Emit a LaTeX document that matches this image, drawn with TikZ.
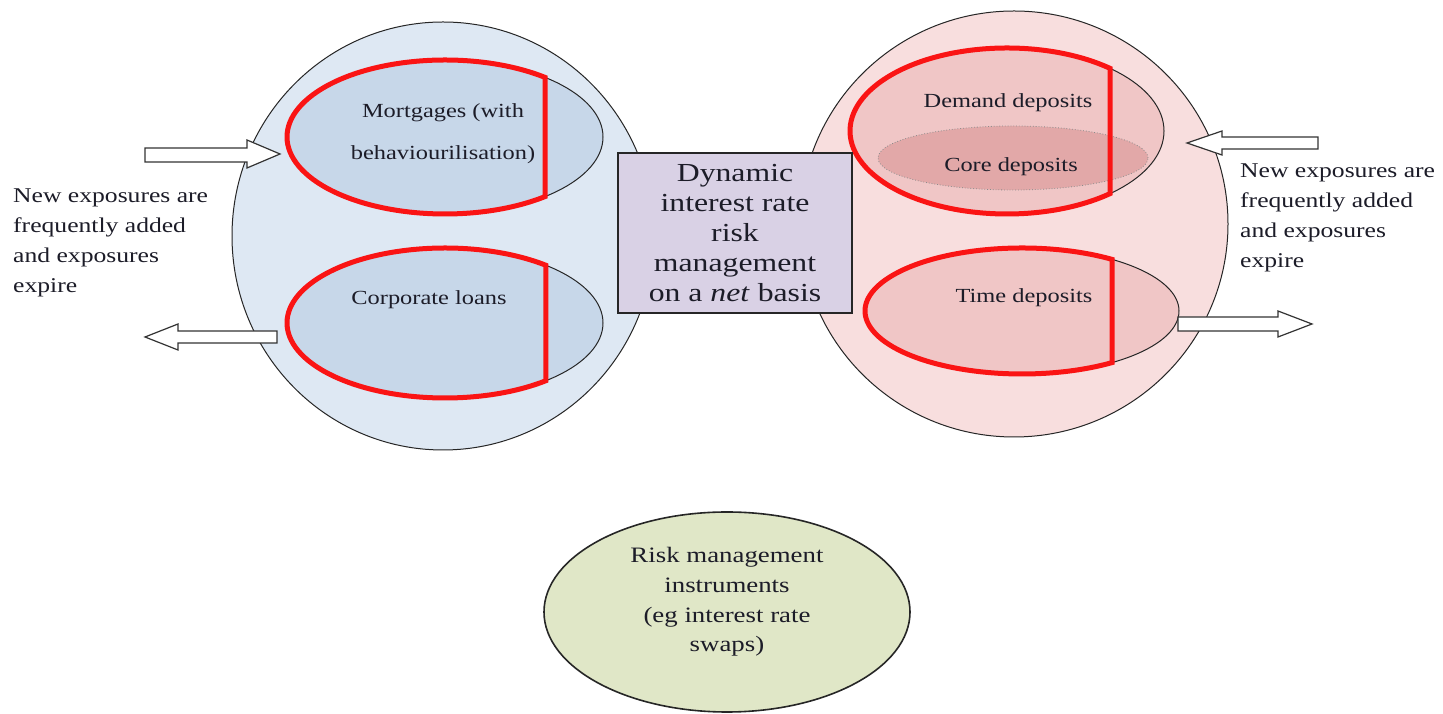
\documentclass[tikz,border=0pt]{standalone}
\usepackage{fontspec}
\setmainfont{Liberation Serif}[FakeStretch=1.22]
\usetikzlibrary{shapes.geometric,calc}

\definecolor{assetbg}{RGB}{222,232,243}
\definecolor{assetin}{RGB}{199,215,233}
\definecolor{liabbg}{RGB}{248,222,222}
\definecolor{liabin}{RGB}{240,198,198}
\definecolor{coreclr}{RGB}{226,168,168}
\definecolor{hubclr}{RGB}{217,209,229}
\definecolor{hedgeclr}{RGB}{224,231,199}
\definecolor{rimred}{RGB}{250,20,20}
\definecolor{inkclr}{RGB}{28,28,40}

\begin{document}
\begin{tikzpicture}[x=1pt,y=1pt,
  pool/.style={ellipse, draw=black!85, line width=1pt, inner sep=0pt},
  bucket/.style={ellipse, draw=black!85, line width=1pt, inner sep=0pt},
  redrim/.style={draw=rimred, line width=5pt, line join=miter},
  blockarrow/.style={draw=black!80, fill=white, line width=1.2pt, line join=miter},
  lbl/.style={inner sep=0pt, text=inkclr, align=center},
  sidenote/.style={inner sep=0pt, text=inkclr, align=left, font=\fontsize{21}{30}\selectfont}
]
\useasboundingbox (0,0) rectangle (1443,714);
\fill[white] (0,0) rectangle (1443,714);

% asset side
\node[pool, fill=assetbg, minimum width=422pt, minimum height=428pt] (assets) at (443,478) {};
\node[bucket, fill=assetin, minimum width=316pt, minimum height=154pt] (mort) at (445,577) {};
\node[bucket, fill=assetin, minimum width=316pt, minimum height=150pt] (corp) at (445,391) {};
\draw[redrim] ($(mort.center)+(50.7:158pt and 77pt)$)
  arc[start angle=50.7, end angle=309.3, x radius=158pt, y radius=77pt] -- cycle;
\draw[redrim] ($(corp.center)+(50.3:158pt and 75pt)$)
  arc[start angle=50.3, end angle=309.7, x radius=158pt, y radius=75pt] -- cycle;

% liability side
\node[pool, fill=liabbg, minimum width=428pt, minimum height=426pt] (liabs) at (1014,490) {};
\node[bucket, fill=liabin, minimum width=314pt, minimum height=166pt] (demand) at (1007,583) {};
\node[ellipse, inner sep=0pt, draw=black!45, dotted, line width=0.8pt, fill=coreclr,
      minimum width=270pt, minimum height=64pt] (core) at (1013,556) {};
\node[bucket, fill=liabin, minimum width=314pt, minimum height=126pt] (time) at (1022,403) {};
\draw[redrim] ($(demand.center)+(49:157pt and 83pt)$)
  arc[start angle=49, end angle=311, x radius=157pt, y radius=83pt] -- cycle;
\draw[redrim] ($(time.center)+(55:157pt and 63pt)$)
  arc[start angle=55, end angle=305, x radius=157pt, y radius=63pt] -- cycle;

% labels of the portfolios
\node[lbl, font=\fontsize{20}{42}\selectfont] (mortlbl) at (443,580) {Mortgages (with\\behaviourilisation)};
\node[lbl, font=\fontsize{20}{24}\selectfont] (corplbl) at (429,414) {Corporate loans};
\node[lbl, font=\fontsize{20}{24}\selectfont] (demandlbl) at (1008,611) {Demand deposits};
\node[lbl, font=\fontsize{20}{24}\selectfont] (corelbl) at (1011,547) {Core deposits};
\node[lbl, font=\fontsize{20}{24}\selectfont] (timelbl) at (1024,416) {Time deposits};

% central management box
\node[draw=black!85, line width=1.5pt, fill=hubclr, minimum width=234pt, minimum height=160pt,
      inner sep=0pt, text=inkclr, align=center, font=\fontsize{26}{30}\selectfont] (hub) at (735,481)
  {Dynamic\\interest rate\\risk\\management\\on a \textit{net} basis};

% flows in and out of the portfolios
\draw[blockarrow] (145,566) coordinate (inA) -- (247,566) -- (247,574) -- (280,560)
  -- (247,546) -- (247,552) -- (145,552) -- cycle;
\draw[blockarrow] (145,377) coordinate (outA) -- (178,390) -- (178,383) -- (277,383)
  -- (277,371) -- (178,371) -- (178,364) -- cycle;
\draw[blockarrow] (1187,571) coordinate (inL) -- (1222,583) -- (1222,577) -- (1318,577)
  -- (1318,565) -- (1222,565) -- (1222,559) -- cycle;
\draw[blockarrow] (1178,397) coordinate (outL) -- (1278,397) -- (1278,403) -- (1312,390)
  -- (1278,377) -- (1278,383) -- (1178,383) -- cycle;

\node[sidenote, anchor=west] (noteA) at (13,471)
  {New exposures are\\frequently added\\and exposures\\expire};
\node[sidenote, anchor=west] (noteL) at (1240,496)
  {New exposures are\\frequently added\\and exposures\\expire};

% hedging instruments
\node[ellipse, draw=black!85, line width=1.6pt, fill=hedgeclr, inner sep=0pt,
      minimum width=366pt, minimum height=200pt] (hedge) at (727,102) {};
\node[lbl, font=\fontsize{22}{29.6}\selectfont] (hedgelbl) at (727,112)
  {Risk management\\instruments\\(eg interest rate\\swaps)};
\end{tikzpicture}
\end{document}
